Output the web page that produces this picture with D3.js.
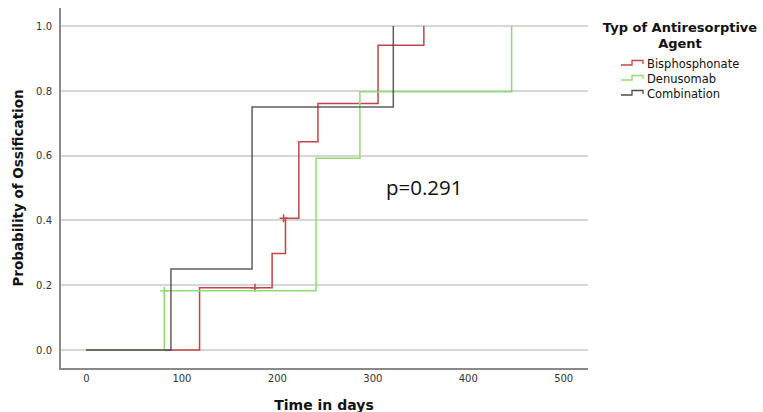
<!DOCTYPE html>
<head>
  <meta charset="utf-8">
  <style>
    body { margin: 0; background: #fff; }
    .axis path, .axis line { stroke: #8a8a8a; shape-rendering: crispEdges; }
    .axis text { font-family: "DejaVu Sans", sans-serif; font-size: 10px; fill: #333; }
    .grid line { stroke: #d6d6d6; stroke-width: 1.5; shape-rendering: crispEdges; }
  </style>
  <script src="https://d3js.org/d3.v7.min.js"></script>
</head>
<body>
  <script>
    // Kaplan-Meier steps (time in days, cumulative probability of ossification)
    const seriesNames = ['Bisphosphonate', 'Denusomab', 'Combination'];
    const seriesColors = ['#c4434a', '#90dd6e', '#4d4d4d'];

    const bisTimes = [0, 119, 195, 209, 223, 243, 306, 354];
    const bisProb = [0, 0.192, 0.298, 0.407, 0.643, 0.761, 0.941, 1.0];
    const bisCensorTimes = [177, 207];
    const bisCensorProb = [0.192, 0.407];

    const denTimes = [0, 82, 241, 287, 446];
    const denProb = [0, 0.183, 0.592, 0.797, 1.0];
    const denCensorTimes = [82];
    const denCensorProb = [0.183];

    const comTimes = [0, 89, 174, 322];
    const comProb = [0, 0.25, 0.75, 1.0];
    const comCensorTimes = [];
    const comCensorProb = [];

    const xTicks = [0, 100, 200, 300, 400, 500];
    const yTicks = [0, 0.2, 0.4, 0.6, 0.8, 1.0];
    const pText = 'p=0.291';

    const w = 763, h = 412;
    const mLeft = 59, mRight = 588, mTop = 8, mBottom = 368;

    const svg = d3.select('body').append('svg')
      .attr('width', w)
      .attr('height', h);

    const xScale = d3.scaleLinear().domain([-28.3, 526]).range([mLeft, mRight]);
    const yScale = d3.scaleLinear().domain([-0.0556, 1.0556]).range([mBottom, mTop]);

    // horizontal grid
    svg.append('g')
      .attr('class', 'grid')
      .selectAll('line')
      .data(yTicks)
      .enter()
      .append('line')
      .attr('x1', mLeft)
      .attr('x2', mRight)
      .attr('y1', d => Math.round(yScale(d)))
      .attr('y2', d => Math.round(yScale(d)));

    const xAxis = d3.axisBottom(xScale).tickValues(xTicks).tickSize(0).tickPadding(7)
      .tickFormat(d3.format('d'));
    const gx = svg.append('g')
      .attr('class', 'x axis')
      .attr('transform', `translate(0, ${mBottom})`)
      .call(xAxis);
    gx.select('.domain').attr('d', `M${mLeft},0.5H${mRight}`).attr('stroke-width', 2);

    const yAxis = d3.axisLeft(yScale).tickValues(yTicks).tickSize(0).tickPadding(7)
      .tickFormat(d3.format('.1f'));
    const gy = svg.append('g')
      .attr('class', 'y axis')
      .attr('transform', `translate(${mLeft}, 0)`)
      .call(yAxis);
    gy.select('.domain').attr('d', `M0.5,${mTop}V${mBottom}`).attr('stroke-width', 2);

    const series = [
      { times: bisTimes, prob: bisProb, ct: bisCensorTimes, cp: bisCensorProb },
      { times: denTimes, prob: denProb, ct: denCensorTimes, cp: denCensorProb },
      { times: comTimes, prob: comProb, ct: comCensorTimes, cp: comCensorProb }
    ];

    const line = d3.line()
      .x(d => xScale(d[0]))
      .y(d => yScale(d[1]))
      .curve(d3.curveStepAfter);

    series.forEach((s, i) => {
      const pts = s.times.map((t, j) => [t, s.prob[j]]);
      svg.append('path')
        .attr('d', line(pts))
        .attr('fill', 'none')
        .attr('stroke', seriesColors[i])
        .attr('stroke-width', 1.5)
        .attr('stroke-opacity', i === 2 ? 0.9 : 1);

      s.ct.forEach((t, j) => {
        const cx = xScale(t), cy = yScale(s.cp[j]);
        svg.append('path')
          .attr('d', `M${cx - 4},${cy}H${cx + 4}M${cx},${cy - 4}V${cy + 4}`)
          .attr('stroke', seriesColors[i])
          .attr('stroke-width', 1.5)
          .attr('fill', 'none');
      });
    });

    // p value
    svg.append('text')
      .attr('x', 386)
      .attr('y', 195)
      .attr('font-family', '"Open Sans", sans-serif')
      .attr('font-size', '20.5px')
      .attr('fill', '#111')
      .text(pText);

    // axis titles
    svg.append('text')
      .attr('x', 324)
      .attr('y', 410)
      .attr('text-anchor', 'middle')
      .attr('font-family', '"DejaVu Sans", sans-serif')
      .attr('font-weight', 'bold')
      .attr('font-size', '14px')
      .attr('fill', '#111')
      .text('Time in days');

    svg.append('text')
      .attr('transform', 'translate(23, 188) rotate(-90)')
      .attr('text-anchor', 'middle')
      .attr('font-family', '"DejaVu Sans", sans-serif')
      .attr('font-weight', 'bold')
      .attr('font-size', '13.5px')
      .attr('fill', '#111')
      .text('Probability of Ossification');

    // legend
    const legend = svg.append('g');
    legend.append('text')
      .attr('x', 680).attr('y', 32)
      .attr('text-anchor', 'middle')
      .attr('font-family', '"DejaVu Sans", sans-serif')
      .attr('font-weight', 'bold')
      .attr('font-size', '13px')
      .attr('fill', '#111')
      .text('Typ of Antiresorptive');
    legend.append('text')
      .attr('x', 680).attr('y', 48)
      .attr('text-anchor', 'middle')
      .attr('font-family', '"DejaVu Sans", sans-serif')
      .attr('font-weight', 'bold')
      .attr('font-size', '13px')
      .attr('fill', '#111')
      .text('Agent');

    seriesNames.forEach((name, i) => {
      const y = 65 + i * 15;
      legend.append('path')
        .attr('d', `M621,${y}H632V${y - 4.5}H643V${y - 1}`)
        .attr('fill', 'none')
        .attr('stroke', seriesColors[i])
        .attr('stroke-width', 1.3);
      legend.append('text')
        .attr('x', 647).attr('y', y + 3)
        .attr('font-family', '"DejaVu Sans", sans-serif')
        .attr('font-size', '11.5px')
        .attr('fill', '#111')
        .text(name);
    });
  </script>
</body>
